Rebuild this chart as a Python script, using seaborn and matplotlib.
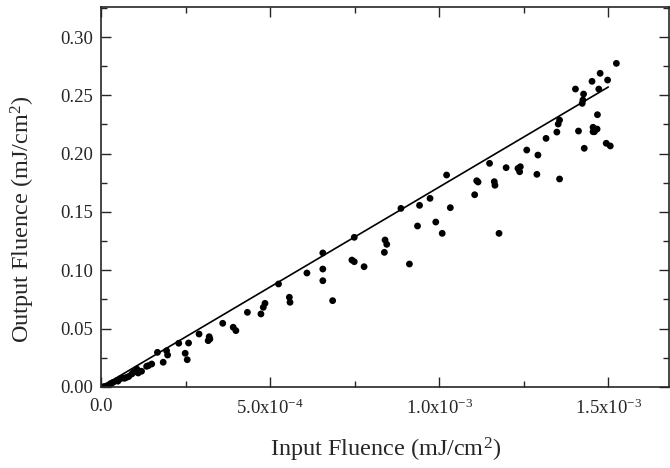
import matplotlib
matplotlib.use("Agg")
import matplotlib.pyplot as plt
import seaborn as sns
import pandas as pd
import numpy as np
from matplotlib.ticker import MultipleLocator

# Data (input fluence in units of 1e-3 mJ/cm^2, output fluence in mJ/cm^2)
input_e3 = [0.009, 0.018, 0.027, 0.030, 0.036, 0.046, 0.050, 0.056, 0.066, 0.070,
            0.076, 0.082, 0.091, 0.096, 0.106, 0.110, 0.120, 0.135, 0.140, 0.150,
            0.167, 0.184, 0.194, 0.197, 0.230, 0.249, 0.255, 0.259, 0.290, 0.317,
            0.320, 0.322, 0.360, 0.391, 0.399, 0.433, 0.473, 0.480, 0.485, 0.525,
            0.557, 0.559, 0.609, 0.656, 0.656, 0.656, 0.685, 0.742, 0.749, 0.749,
            0.778, 0.838, 0.840, 0.845, 0.887, 0.912, 0.936, 0.942, 0.973, 0.990,
            1.009, 1.022, 1.033, 1.105, 1.111, 1.115, 1.149, 1.163, 1.165, 1.177,
            1.198, 1.233, 1.238, 1.240, 1.259, 1.289, 1.292, 1.316, 1.348, 1.352,
            1.356, 1.356, 1.403, 1.412, 1.423, 1.425, 1.427, 1.429, 1.452, 1.455,
            1.455, 1.459, 1.467, 1.468, 1.472, 1.476, 1.494, 1.498, 1.506, 1.524]
output = [0.0004, 0.0011, 0.0026, 0.0030, 0.0040, 0.0054, 0.0050, 0.0069, 0.0077, 0.0075,
          0.0083, 0.0090, 0.0111, 0.0126, 0.0154, 0.0120, 0.0135, 0.0177, 0.0183, 0.0197,
          0.0297, 0.0212, 0.0311, 0.0274, 0.0375, 0.0289, 0.0234, 0.0377, 0.0454, 0.0397,
          0.0431, 0.0411, 0.0546, 0.0512, 0.0483, 0.0640, 0.0626, 0.0683, 0.0717, 0.0883,
          0.0769, 0.0726, 0.0977, 0.1149, 0.1011, 0.0911, 0.0740, 0.1088, 0.1074, 0.1283,
          0.1031, 0.1154, 0.1260, 0.1223, 0.1531, 0.1054, 0.1380, 0.1557, 0.1617, 0.1414,
          0.1317, 0.1817, 0.1537, 0.1648, 0.1768, 0.1757, 0.1917, 0.1760, 0.1729, 0.1317,
          0.1880, 0.1874, 0.1845, 0.1888, 0.2031, 0.1823, 0.1988, 0.2131, 0.2185, 0.2254,
          0.2288, 0.1783, 0.2554, 0.2194, 0.2431, 0.2460, 0.2511, 0.2046, 0.2620, 0.2226,
          0.2188, 0.2188, 0.2211, 0.2334, 0.2554, 0.2689, 0.2089, 0.2631, 0.2066, 0.2774]

# Linear reference line
fit_x = [0.0, 1.5e-3]
fit_slope = 171.4

x_ticks = [0.0, 5.0e-4, 1.0e-3, 1.5e-3]
x_tick_labels = ['0.0', r'5.0x10$^{-4}$', r'1.0x10$^{-3}$', r'1.5x10$^{-3}$']
y_ticks = [0.00, 0.05, 0.10, 0.15, 0.20, 0.25, 0.30]

df = pd.DataFrame({'x': np.array(input_e3) * 1e-3, 'y': output})
fit = pd.DataFrame({'x': fit_x, 'y': np.array(fit_x) * fit_slope})

sns.set_style("ticks")
plt.rcParams['font.family'] = ['Liberation Serif', 'DejaVu Serif']
plt.rcParams['mathtext.fontset'] = 'custom'
plt.rcParams['mathtext.rm'] = 'Liberation Serif'
plt.rcParams['mathtext.it'] = 'Liberation Serif:italic'
plt.rcParams['mathtext.bf'] = 'Liberation Serif:bold'

fig = plt.figure(figsize=(6.7, 4.68), dpi=100)
ax = fig.add_axes([0.1507, 0.1731, 0.848, 0.8119])

sns.lineplot(data=fit, x='x', y='y', color='black', linewidth=1.2, ax=ax)
sns.scatterplot(data=df, x='x', y='y', color='black', s=24, edgecolor='none', ax=ax)

ax.set_xlim(0, 1.68e-3)
ax.set_ylim(0, 0.3257)
ax.set_xticks(x_ticks)
ax.set_xticklabels(x_tick_labels)
ax.set_yticks(y_ticks)
ax.set_yticklabels([f'{v:.2f}' for v in y_ticks])
ax.xaxis.set_minor_locator(MultipleLocator(2.5e-4))
ax.yaxis.set_minor_locator(MultipleLocator(0.025))
ax.tick_params(which='both', direction='in', top=True, right=True, labelsize=13.5, width=1)
ax.tick_params(which='major', length=7)
ax.tick_params(which='minor', length=4)
ax.tick_params(axis='x', pad=8)
ax.tick_params(axis='y', pad=6)

for sp in ax.spines.values():
    sp.set_linewidth(1.2)

ax.set_xlabel(r'Input Fluence (mJ/cm$^{2}$)', fontsize=17.5)
ax.set_ylabel(r'Output Fluence (mJ/cm$^{2}$)', fontsize=17.5)
ax.xaxis.set_label_coords(0.5, -0.128)
ax.yaxis.set_label_coords(-0.113, 0.44)

fig.savefig('out.png', dpi=100)
